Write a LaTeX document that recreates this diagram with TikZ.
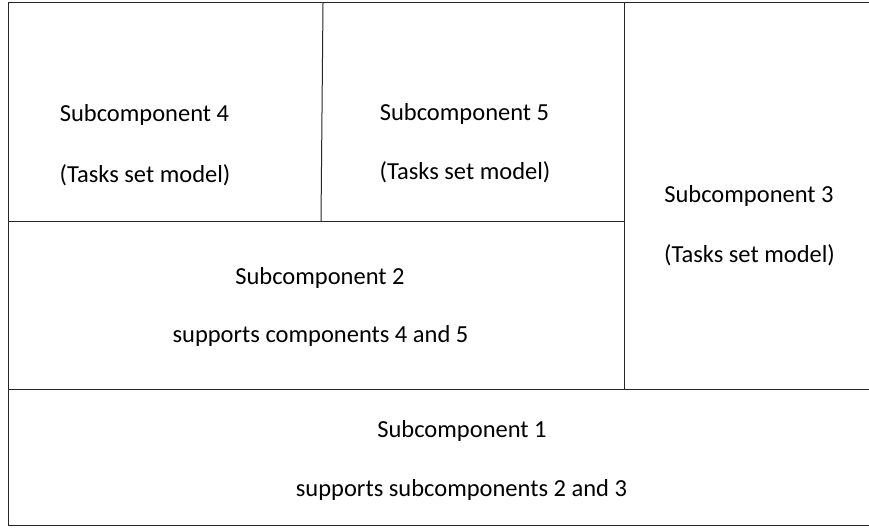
\documentclass[tikz,border=0pt]{standalone}
\usepackage{fontspec}
\setmainfont{Carlito}
\tikzset{lbl/.style={anchor=base, inner sep=0pt, font=\fontsize{24.5}{29}\selectfont},
  part/.style={line width=1pt, black!85}}
\begin{document}
\begin{tikzpicture}[x=1pt,y=-1pt]
\useasboundingbox (0,0) rectangle (869,527);
\coordinate (tl) at (8,3);
\coordinate (tr) at (869,3);
\coordinate (bl) at (8,525);
\coordinate (br) at (869,525);
\draw[part] (tr) -- (tl) -- (bl) -- (br);
\draw[part] (8,389) -- (869,389);
\draw[part] (624,3) -- (624,389);
\draw[part] (8,221) -- (624,221);
\draw[part] (323,3) -- (321,221);
\node[lbl] (sub4) at (144.5,121) {Subcomponent 4};
\node[lbl] (task4) at (145,182) {(Tasks set model)};
\node[lbl] (sub5) at (464.5,120) {Subcomponent 5};
\node[lbl] (task5) at (465,179) {(Tasks set model)};
\node[lbl] (sub3) at (749,202) {Subcomponent 3};
\node[lbl] (task3) at (749.5,262) {(Tasks set model)};
\node[lbl] (sub2) at (320,284) {Subcomponent 2};
\node[lbl] (sup2) at (320.5,342) {supports components 4 and 5};
\node[lbl] (sub1) at (462,437) {Subcomponent 1};
\node[lbl] (sup1) at (461.5,496) {supports subcomponents 2 and 3};
\end{tikzpicture}
\end{document}
